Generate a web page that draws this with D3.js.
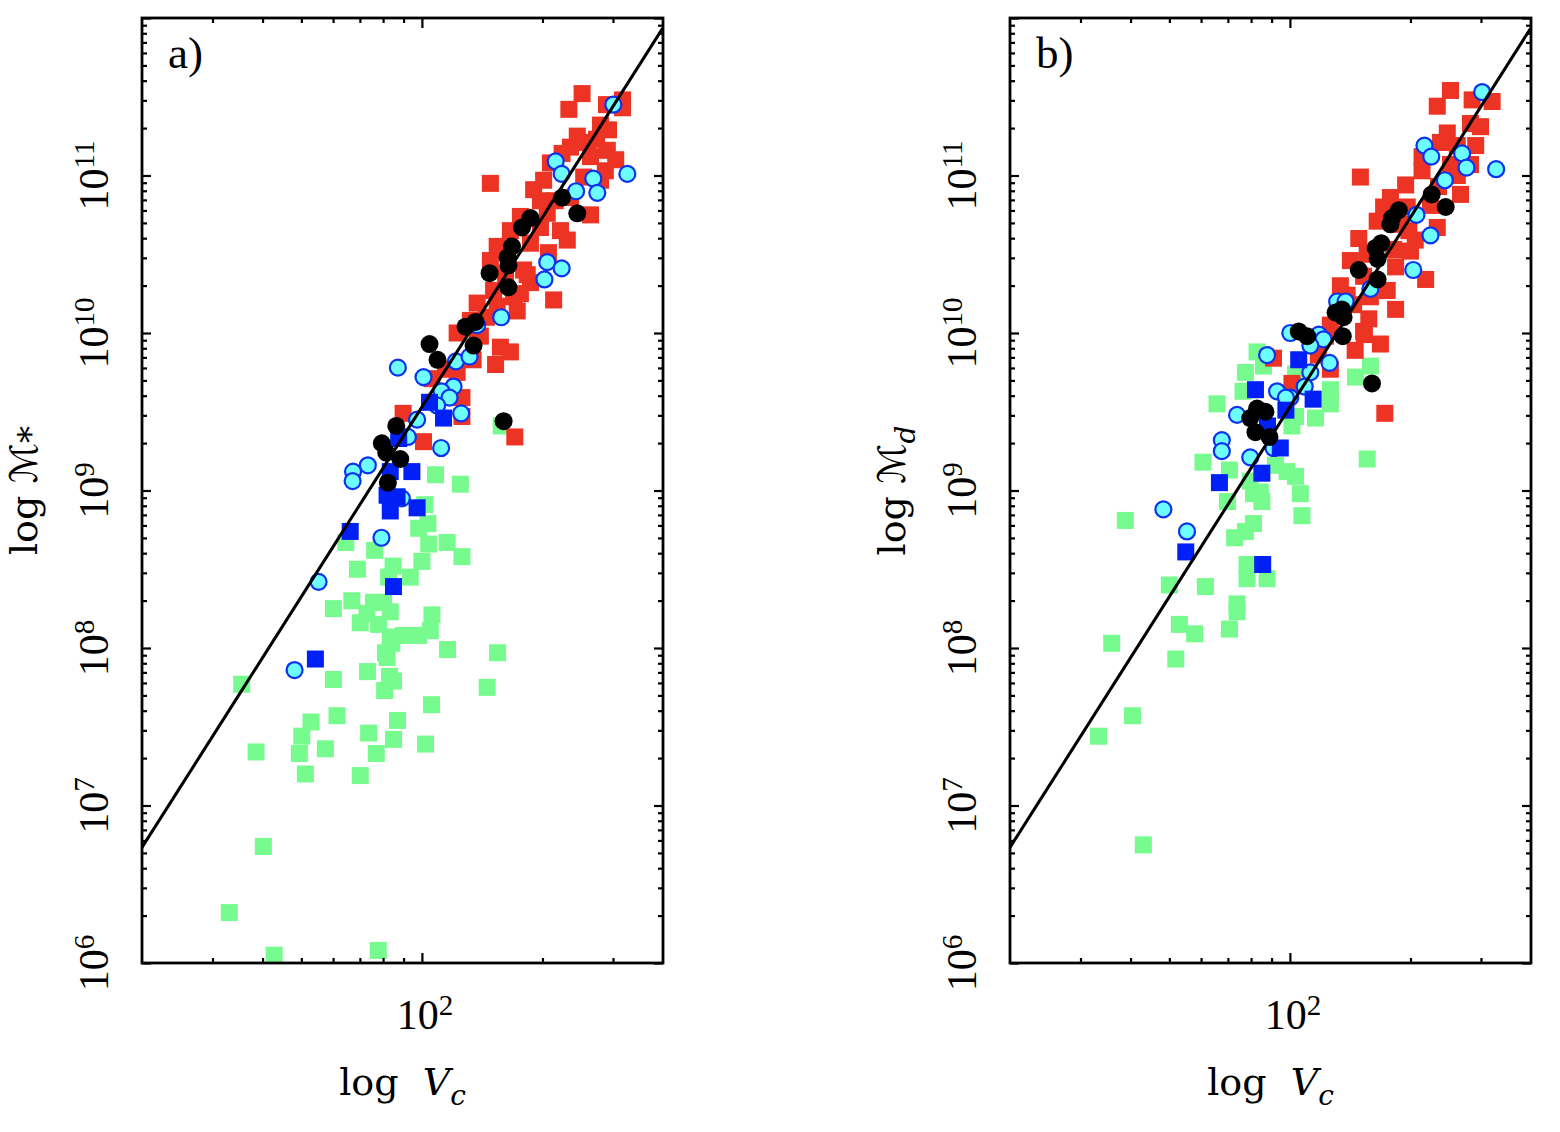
<!DOCTYPE html>
<html>
<head>
<meta charset="utf-8">
<script src="https://cdn.jsdelivr.net/npm/d3@7"></script>
<style>
  body { margin: 0; background: #fff; }
  text { font-family: "Liberation Serif", serif; fill: #000; }
  .ttl { font-family: "DejaVu Serif", serif; }
</style>
</head>
<body>
<svg width="1560" height="1132"></svg>
<script>
// values are [log10 Vc, log10 M]
var redA = [[2.400,11.52],[2.367,11.42],[2.461,11.45],[2.501,11.48],[2.501,11.43],[2.446,11.32],[2.388,11.25],
  [2.466,11.29],[2.413,11.21],[2.371,11.18],[2.463,11.16],[2.350,11.14],[2.421,11.12],[2.458,11.03],[2.321,11.08],
  [2.171,10.95],[2.404,10.99],[2.304,10.97],[2.279,10.91],[2.371,10.86],[2.421,10.75],[2.246,10.74],[2.313,10.76],
  [2.296,10.67],[2.363,10.59],[2.188,10.55],[2.271,10.57],[2.171,10.46],[2.254,10.40],[2.271,10.32],[2.329,10.21],
  [2.138,10.19],[2.229,10.23],[2.179,10.27],[2.196,9.91],[2.221,9.88],[2.184,9.80],[2.004,9.31],[1.953,9.49],
  [2.232,9.34],[2.100,9.59],[2.100,9.47],[2.025,9.71],[2.138,10.02],[2.146,9.98],[2.088,10.00],[2.088,9.75],
  [2.188,10.17],[2.238,10.14],[2.246,10.25],[2.263,10.37],[2.316,10.51],[2.346,10.65],[2.333,10.84],[2.446,10.97],
  [2.484,11.10],[2.436,11.23],[2.296,10.84],[2.221,10.65],[2.209,10.37],[2.121,10.08],[2.161,10.10],[2.059,9.77],
  [2.128,9.83]];
var greenA = [[2.034,9.10],[2.096,9.04],[2.007,8.91],[2.198,9.41],[2.015,8.79],[1.992,8.76],[1.810,8.67],[1.882,8.62],
  [2.017,8.66],[2.063,8.67],[2.100,8.58],[2.000,8.55],[1.839,8.50],[1.928,8.52],[1.917,8.45],[1.971,8.45],
  [1.779,8.25],[1.825,8.30],[1.879,8.29],[1.904,8.29],[1.863,8.22],[1.921,8.23],[1.846,8.16],[1.892,8.15],
  [2.025,8.21],[2.021,8.11],[1.921,8.07],[1.954,8.08],[1.992,8.08],[1.925,8.03],[1.909,7.97],[1.913,7.94],
  [2.064,7.99],[2.189,7.97],[1.550,7.77],[1.779,7.80],[1.864,7.85],[1.919,7.82],[1.929,7.79],[1.907,7.73],
  [2.163,7.75],[2.024,7.64],[1.788,7.57],[1.723,7.53],[1.939,7.54],[1.700,7.44],[1.867,7.46],[1.929,7.42],
  [2.009,7.39],[1.586,7.34],[1.694,7.33],[1.759,7.36],[1.886,7.33],[1.709,7.20],[1.846,7.19],[1.604,6.74],
  [1.519,6.32],[1.631,6.05],[1.891,6.08]];
var blueA = [[2.019,9.56],[2.054,9.46],[1.942,9.33],[1.921,9.12],[1.975,9.12],[1.913,8.97],[1.938,8.96],[1.921,8.87],
  [1.988,8.89],[1.821,8.74],[1.929,8.39],[1.734,7.93]];
var cyanA = [[2.478,11.45],[2.334,11.09],[2.349,11.01],[2.428,10.98],[2.513,11.01],[2.385,10.90],[2.438,10.89],
  [2.313,10.45],[2.349,10.41],[2.306,10.34],[2.198,10.10],[2.138,10.05],[2.085,9.82],[2.119,9.85],[1.940,9.78],
  [2.004,9.72],[2.079,9.66],[2.049,9.63],[2.069,9.59],[2.038,9.54],[2.098,9.49],[1.988,9.45],[1.965,9.34],
  [2.048,9.27],[1.865,9.16],[1.828,9.12],[1.827,9.06],[1.950,8.95],[1.899,8.70],[1.742,8.42],[1.682,7.86]];
var blackA = [[2.350,10.86],[2.388,10.76],[2.271,10.73],[2.250,10.67],[2.225,10.55],[2.214,10.48],[2.216,10.43],
  [2.169,10.38],[2.216,10.29],[2.134,10.07],[2.109,10.04],[2.129,9.92],[2.019,9.93],[2.039,9.83],[1.936,9.41],
  [2.204,9.44],[1.900,9.30],[1.911,9.24],[1.946,9.20],[1.915,9.05]];

var redB = [[2.401,11.54],[2.368,11.44],[2.455,11.48],[2.505,11.47],[2.451,11.33],[2.476,11.31],[2.393,11.27],
  [2.464,11.19],[2.376,11.21],[2.418,11.19],[2.330,11.12],[2.451,11.07],[2.176,10.99],[2.330,11.03],[2.289,10.94],
  [2.418,11.00],[2.426,10.88],[2.251,10.86],[2.371,10.93],[2.234,10.80],[2.293,10.80],[2.218,10.71],[2.368,10.67],
  [2.172,10.60],[2.297,10.65],[2.193,10.50],[2.259,10.53],[2.301,10.52],[2.264,10.42],[2.184,10.36],[2.243,10.27],
  [2.339,10.34],[2.201,10.23],[2.143,10.24],[2.159,10.18],[2.197,10.09],[2.184,10.01],[2.226,9.93],[2.101,10.05],
  [2.089,9.98],[2.101,9.77],[2.237,9.49],[2.186,9.99],[1.959,9.84],[2.005,9.68],[2.276,10.69],[2.313,10.59],
  [2.151,10.46],[2.126,10.30],[2.351,10.81],[2.401,11.07],[2.264,10.15],[2.163,9.89],[2.071,9.86]];
var greenB = [[2.201,9.79],[2.164,9.72],[2.101,9.64],[2.101,9.55],[2.064,9.46],[1.918,9.88],[1.934,9.79],[1.889,9.75],
  [1.883,9.63],[2.014,9.74],[1.818,9.55],[2.014,9.47],[2.005,9.41],[2.193,9.20],[1.783,9.18],[1.849,9.13],
  [1.964,9.16],[1.993,9.12],[2.014,9.09],[1.901,9.06],[1.926,8.99],[1.909,8.98],[2.026,8.98],[1.930,8.93],
  [1.844,8.93],[2.030,8.84],[1.909,8.79],[1.889,8.74],[1.862,8.70],[1.893,8.53],[1.943,8.44],[1.893,8.44],
  [1.699,8.40],[1.789,8.39],[1.589,8.81],[1.868,8.28],[1.868,8.23],[1.724,8.15],[1.762,8.09],[1.849,8.12],
  [1.555,8.03],[1.715,7.93],[1.607,7.57],[1.522,7.44],[1.634,6.75]];
var blueB = [[2.022,9.83],[2.058,9.58],[1.914,9.64],[1.990,9.51],[1.944,9.41],[1.976,9.27],[1.930,9.11],[1.824,9.05],
  [1.740,8.61],[1.932,8.53]];
var cyanB = [[2.480,11.53],[2.336,11.19],[2.353,11.12],[2.430,11.14],[2.441,11.05],[2.515,11.04],[2.387,10.97],
  [2.316,10.75],[2.351,10.62],[2.308,10.40],[2.201,10.28],[2.118,10.20],[2.139,10.20],[2.072,9.99],[2.084,9.96],
  [2.051,9.92],[2.099,9.81],[2.051,9.75],[2.037,9.66],[2.001,9.59],[1.943,9.86],[1.968,9.63],[1.990,9.59],
  [1.868,9.48],[1.830,9.32],[1.830,9.25],[1.901,9.21],[1.959,9.27],[1.684,8.88],[1.743,8.74],[2.001,10.00]];
var blackB = [[2.354,10.88],[2.389,10.80],[2.272,10.78],[2.255,10.73],[2.251,10.69],[2.228,10.57],[2.214,10.54],
  [2.219,10.47],[2.172,10.40],[2.219,10.34],[2.114,10.13],[2.134,10.10],[2.130,10.15],[2.132,9.98],[2.022,10.01],
  [2.043,9.98],[2.205,9.68],[1.918,9.52],[1.939,9.50],[1.901,9.46],[1.914,9.37],[1.949,9.34]];

// fitted relation log M = slope * log V + intercept (same in both panels)
var fitSlope = 4.0, fitIntercept = 1.53;

var xDomain = [20, 400],
    yDomain = [1e6, 1e12];
var xMajor = [100],
    xMinor = [30, 40, 50, 60, 70, 80, 90, 200, 300];
var yMajor = [1e6, 1e7, 1e8, 1e9, 1e10, 1e11, 1e12],
    yLabelExp = [6, 7, 8, 9, 10, 11];
var yMinor = [];
yMajor.slice(0, -1).forEach(function (d) {
    for (var k = 2; k <= 9; k++) yMinor.push(d * k);
});

var panels = [
    { left: 142, tag: "a)", sub: "*", italicSub: false, red: redA, green: greenA, blue: blueA, cyan: cyanA, black: blackA },
    { left: 1010, tag: "b)", sub: "d", italicSub: true, red: redB, green: greenB, blue: blueB, cyan: cyanB, black: blackB }
];

var svg = d3.select("svg"),
    plotTop = 18, w = 521, h = 945,
    sq = 17;

var x = d3.scaleLog().domain(xDomain).range([0, w]),
    y = d3.scaleLog().domain(yDomain).range([h, 0]);

function pv(d) { return x(Math.pow(10, d[0])); }
function pm(d) { return y(Math.pow(10, d[1])); }

panels.forEach(function (p, i) {
    var g = svg.append("g").attr("transform", "translate(" + p.left + "," + plotTop + ")");

    g.append("clipPath").attr("id", "clip" + i)
        .append("rect").attr("width", w).attr("height", h);

    var plot = g.append("g").attr("clip-path", "url(#clip" + i + ")");

    function squares(data, color) {
        plot.selectAll(null).data(data).enter().append("rect")
            .attr("x", function (d) { return pv(d) - sq / 2; })
            .attr("y", function (d) { return pm(d) - sq / 2; })
            .attr("width", sq).attr("height", sq)
            .attr("fill", color);
    }

    squares(p.green, "#77fb8e");
    squares(p.red, "#ec3324");

    plot.selectAll(null).data(p.cyan).enter().append("circle")
        .attr("cx", pv).attr("cy", pm).attr("r", 8)
        .attr("fill", "#6efdfd").attr("stroke", "#0a32f2").attr("stroke-width", 2.2);

    squares(p.blue, "#0020f5");

    plot.selectAll(null).data(p.black).enter().append("circle")
        .attr("cx", pv).attr("cy", pm).attr("r", 9)
        .attr("fill", "#000");

    // fitted line
    var lv = d3.range(Math.log10(xDomain[0]), Math.log10(xDomain[1]) + 0.001, 0.05);
    plot.append("path")
        .datum(lv.map(function (v) { return [v, fitSlope * v + fitIntercept]; }))
        .attr("fill", "none").attr("stroke", "#000").attr("stroke-width", 3)
        .attr("d", d3.line().x(pv).y(pm));

    // ticks on all four sides, pointing inwards
    function ticks(axis, vals, len, tr) {
        var a = g.append("g").attr("transform", tr)
            .call(axis.tickValues(vals).tickSize(len).tickFormat(""));
        a.select(".domain").remove();
        a.selectAll("line").attr("stroke-width", 2.2);
    }
    ticks(d3.axisBottom(x), xMajor, -10, "translate(0," + h + ")");
    ticks(d3.axisBottom(x), xMinor, -5, "translate(0," + h + ")");
    ticks(d3.axisTop(x), xMajor, -10, "translate(0,0)");
    ticks(d3.axisTop(x), xMinor, -5, "translate(0,0)");
    ticks(d3.axisLeft(y), yMajor, -9, "translate(0,0)");
    ticks(d3.axisLeft(y), yMinor, -5, "translate(0,0)");
    ticks(d3.axisRight(y), yMajor, -9, "translate(" + w + ",0)");
    ticks(d3.axisRight(y), yMinor, -5, "translate(" + w + ",0)");

    g.append("rect").attr("width", w).attr("height", h)
        .attr("fill", "none").attr("stroke", "#000").attr("stroke-width", 2.8);

    // x tick label
    var xl = g.append("text")
        .attr("x", x(100) + 3).attr("y", h + 66)
        .attr("text-anchor", "middle").style("font-size", "42px");
    xl.append("tspan").text("10");
    xl.append("tspan").attr("dy", "-0.5em").style("font-size", "29px").text("2");

    // y tick labels
    yLabelExp.forEach(function (e) {
        var t = g.append("text")
            .attr("transform", "translate(-34," + y(Math.pow(10, e)) + ") rotate(-90)")
            .attr("text-anchor", "middle").style("font-size", "42px");
        t.append("tspan").text("10");
        t.append("tspan").attr("dy", "-0.5em").style("font-size", "29px").text(e);
    });

    // axis titles
    var xt = g.append("text").attr("class", "ttl")
        .attr("x", w / 2).attr("y", h + 132)
        .attr("text-anchor", "middle").style("font-size", "38px");
    xt.append("tspan").text("log ");
    xt.append("tspan").style("font-style", "italic").text("\u00a0V");
    xt.append("tspan").attr("dy", "0.35em").style("font-style", "italic").style("font-size", "28px").text("c");

    var yt = g.append("text").attr("class", "ttl")
        .attr("transform", "translate(-105," + h / 2 + ") rotate(-90)")
        .attr("text-anchor", "middle").style("font-size", "38px");
    yt.append("tspan").text("log ");
    yt.append("tspan").style("font-family", "DejaVu Sans").style("font-style", "italic").text("\u2133");
    yt.append("tspan").attr("dy", p.sub === "*" ? "0.15em" : "0.35em")
        .style("font-style", p.italicSub ? "italic" : "normal")
        .style("font-size", p.sub === "*" ? "34px" : "28px").text(p.sub);

    g.append("text").attr("x", 26).attr("y", 50)
        .style("font-size", "45px").text(p.tag);
});
</script>
</body>
</html>
